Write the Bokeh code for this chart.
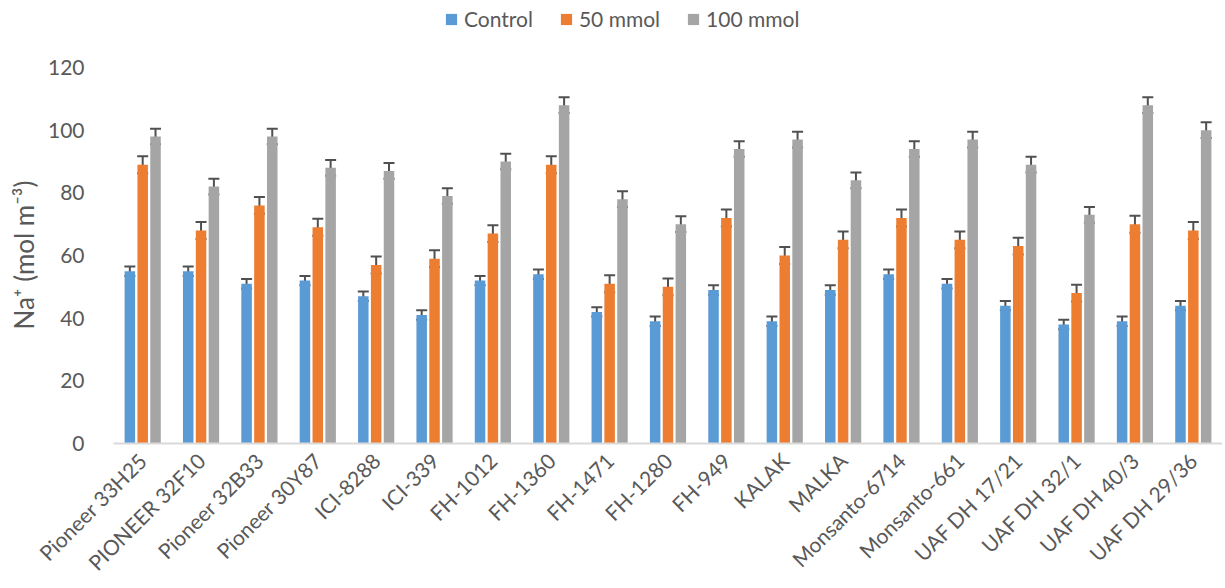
import math
from bokeh.plotting import figure
from bokeh.models import (ColumnDataSource, FactorRange, Range1d, Whisker, TeeHead, Legend,
                          LegendItem, Title)
from bokeh.transform import dodge
from bokeh.embed import file_html
from bokeh.resources import INLINE

cultivars = ["Pioneer 33H25", "PIONEER 32F10", "Pioneer 32B33", "Pioneer 30Y87", "ICI-8288",
             "ICI-339", "FH-1012", "FH-1360", "FH-1471", "FH-1280", "FH-949", "KALAK", "MALKA",
             "Monsanto-6714", "Monsanto-661", "UAF DH 17/21", "UAF DH 32/1", "UAF DH 40/3", "UAF DH 29/36"]
control = [55, 55, 51, 52, 47, 41, 52, 54, 42, 39, 49, 39, 49, 54, 51, 44, 38, 39, 44]
mmol50 = [89, 68, 76, 69, 57, 59, 67, 89, 51, 50, 72, 60, 65, 72, 65, 63, 48, 70, 68]
mmol100 = [98, 82, 98, 88, 87, 79, 90, 108, 78, 70, 94, 97, 84, 94, 97, 89, 73, 108, 100]
err_control = [1.5] * 19
err_50 = [2.7] * 19
err_100 = [2.5] * 19
series_names = ["Control", "50 mmol", "100 mmol"]
y_ticks = [0, 20, 40, 60, 80, 100, 120]
y_title = "Na⁺ (mol m⁻³)"

colors = ["#5B9BD5", "#ED7D31", "#A5A5A5"]
FONT = "Lato"
TXT = "#595959"
ERR = "#505050"

src = ColumnDataSource(dict(
    cat=cultivars,
    control=control, m50=mmol50, m100=mmol100,
    c_up=[v + e for v, e in zip(control, err_control)],
    c_lo=[v - e for v, e in zip(control, err_control)],
    a_up=[v + e for v, e in zip(mmol50, err_50)],
    a_lo=[v - e for v, e in zip(mmol50, err_50)],
    b_up=[v + e for v, e in zip(mmol100, err_100)],
    b_lo=[v - e for v, e in zip(mmol100, err_100)],
))

# the top of the plot area leaves room for the legend above the 120 tick
p = figure(width=1222, height=586, output_backend="svg", toolbar_location=None,
           x_range=FactorRange(factors=cultivars), y_range=Range1d(0, 141.4))
p.min_border_left = 104
p.min_border_top = 0
p.min_border_right = 0
p.min_border_bottom = 143
p.outline_line_color = None
p.xgrid.grid_line_color = None
p.ygrid.grid_line_color = None
p.x_range.range_padding = 0

off = 0.22
w = 0.18
fields = [("control", "c_up", "c_lo"), ("m50", "a_up", "a_lo"), ("m100", "b_up", "b_lo")]
renderers = []
for i, (f, up, lo) in enumerate(fields):
    d = (i - 1) * off
    r = p.vbar(x=dodge("cat", d, range=p.x_range), top=f, width=w, source=src,
               fill_color=colors[i], line_color=None)
    renderers.append(r)
    wk = Whisker(source=src, base=dodge("cat", d, range=p.x_range), upper=up, lower=lo,
                 line_color=ERR, line_width=2,
                 upper_head=TeeHead(size=11, line_color=ERR, line_width=2),
                 lower_head=TeeHead(size=11, line_color=ERR, line_width=2))
    p.add_layout(wk)

# y axis
p.yaxis.ticker = y_ticks
p.yaxis.axis_line_color = None
p.yaxis.major_tick_line_color = None
p.yaxis.minor_tick_line_color = None
p.yaxis.major_label_text_font = FONT
p.yaxis.major_label_text_font_size = "21px"
p.yaxis.major_label_text_color = TXT
p.yaxis.major_label_standoff = 23

p.add_layout(Title(text=y_title, align="right", offset=180, standoff=10,
                   text_font=FONT, text_font_size="26px", text_font_style="normal",
                   text_color=TXT), "left")

# x axis
p.xaxis.axis_line_color = "#D9D9D9"
p.xaxis.axis_line_width = 2
p.xaxis.major_tick_line_color = None
p.xaxis.minor_tick_line_color = None
p.xaxis.major_label_orientation = math.pi / 4
p.xaxis.major_label_text_font = FONT
p.xaxis.major_label_text_font_size = "21px"
p.xaxis.major_label_text_color = TXT
p.xaxis.major_label_standoff = 7

legend = Legend(items=[LegendItem(label=n, renderers=[r]) for n, r in zip(series_names, renderers)],
                orientation="horizontal", location=(331, 412),
                label_text_font=FONT, label_text_font_size="21px", label_text_color=TXT,
                glyph_width=14, glyph_height=14, spacing=26, padding=0, margin=0,
                label_standoff=6, border_line_color=None, background_fill_alpha=0)
p.add_layout(legend)

open("out.html", "w").write(file_html(p, INLINE))
